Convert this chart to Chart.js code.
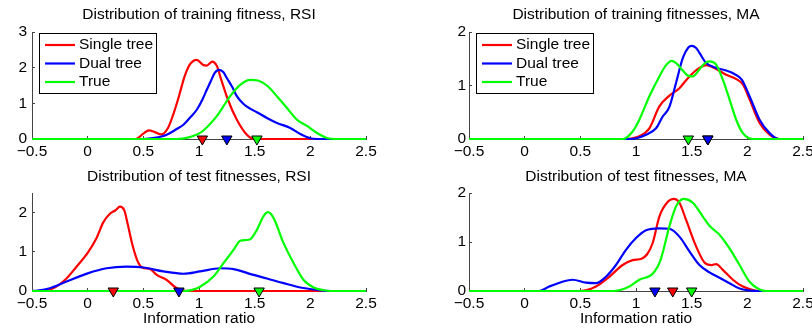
<!DOCTYPE html>
<html>
<head>
<meta charset="utf-8">
<script src="https://cdn.jsdelivr.net/npm/chart.js@4/dist/chart.umd.min.js"></script>
<style>
  body { margin: 0; background: #fff; }
  .sub { position: absolute; width: 406px; height: 166px; }
</style>
</head>
<body>
<div class="sub" style="left:0;top:0"><canvas id="trainRsi" width="406" height="166"></canvas></div>
<div class="sub" style="left:406px;top:0"><canvas id="trainMa" width="406" height="166"></canvas></div>
<div class="sub" style="left:0;top:166px"><canvas id="testRsi" width="406" height="166"></canvas></div>
<div class="sub" style="left:406px;top:166px"><canvas id="testMa" width="406" height="166"></canvas></div>
<script>
var labels = ['Single tree', 'Dual tree', 'True'];
var colors = ['#ff0000', '#0000ff', '#00ff00'];
var xTicks = [-0.5, 0, 0.5, 1, 1.5, 2, 2.5];

// training fitness, RSI
var trainRsiSingleX = [-0.5, 0.43, 0.5, 0.55, 0.6, 0.66, 0.72, 0.77, 0.82, 0.87, 0.92, 0.98, 1.04, 1.07, 1.12, 1.16, 1.2, 1.26, 1.34, 1.43, 1.5, 2.5];
var trainRsiSingleY = [0, 0, 0.15, 0.24, 0.2, 0.13, 0.3, 0.7, 1.2, 1.75, 2.1, 2.22, 2.07, 2.06, 2.17, 2.05, 1.66, 1.1, 0.54, 0.12, 0, 0];
var trainRsiDualX = [-0.5, 0.5, 0.6, 0.71, 0.8, 0.86, 0.92, 0.98, 1.03, 1.07, 1.11, 1.14, 1.18, 1.22, 1.25, 1.3, 1.34, 1.4, 1.46, 1.52, 1.61, 1.7, 1.82, 1.91, 2.0, 2.06, 2.5];
var trainRsiDualY = [0, 0, 0.03, 0.12, 0.28, 0.4, 0.6, 0.82, 1.1, 1.38, 1.65, 1.85, 1.94, 1.87, 1.71, 1.45, 1.2, 0.98, 0.85, 0.75, 0.59, 0.45, 0.31, 0.14, 0.02, 0, 0];
var trainRsiTrueX = [-0.5, 0.8, 0.9, 1.01, 1.08, 1.16, 1.22, 1.28, 1.37, 1.46, 1.53, 1.61, 1.7, 1.79, 1.88, 1.97, 2.06, 2.15, 2.22, 2.5];
var trainRsiTrueY = [0, 0, 0.04, 0.17, 0.36, 0.64, 0.92, 1.2, 1.52, 1.66, 1.64, 1.5, 1.2, 0.87, 0.54, 0.37, 0.17, 0.03, 0, 0];
var trainRsiMeans = [1.03, 1.25, 1.52];

// training fitnesses, MA
var trainMaSingleX = [-0.5, 0.88, 0.95, 1.03, 1.12, 1.21, 1.3, 1.39, 1.48, 1.57, 1.63, 1.72, 1.81, 1.9, 1.96, 2.02, 2.11, 2.2, 2.29, 2.5];
var trainMaSingleY = [0, 0, 0.01, 0.05, 0.2, 0.61, 0.81, 0.95, 1.17, 1.33, 1.38, 1.31, 1.2, 1.12, 1.02, 0.74, 0.3, 0.08, 0, 0];
var trainMaDualX = [-0.5, 0.95, 1.09, 1.18, 1.24, 1.3, 1.36, 1.42, 1.47, 1.5, 1.54, 1.57, 1.63, 1.72, 1.81, 1.88, 1.95, 2.02, 2.11, 2.2, 2.28, 2.5];
var trainMaDualY = [0, 0, 0.08, 0.2, 0.42, 0.6, 1.05, 1.51, 1.71, 1.74, 1.7, 1.61, 1.42, 1.33, 1.28, 1.22, 1.11, 0.8, 0.36, 0.11, 0, 0];
var trainMaTrueX = [-0.5, 0.88, 0.97, 1.03, 1.12, 1.21, 1.27, 1.32, 1.36, 1.42, 1.47, 1.51, 1.57, 1.62, 1.66, 1.72, 1.78, 1.84, 1.9, 1.96, 2.05, 2.5];
var trainMaTrueY = [0, 0, 0.14, 0.36, 0.8, 1.17, 1.38, 1.46, 1.42, 1.28, 1.18, 1.17, 1.3, 1.42, 1.45, 1.39, 1.11, 0.74, 0.36, 0.11, 0, 0];
var trainMaMeans = [1.645, 1.645, 1.47];

// test fitnesses, RSI
var testRsiSingleX = [-0.5, -0.43, -0.31, -0.19, -0.1, 0.0, 0.08, 0.14, 0.2, 0.25, 0.29, 0.33, 0.36, 0.4, 0.45, 0.49, 0.56, 0.62, 0.71, 0.79, 0.85, 0.9, 2.5];
var testRsiSingleY = [0, 0, 0.07, 0.32, 0.62, 0.97, 1.35, 1.75, 1.97, 2.06, 2.15, 2.05, 1.7, 1.2, 0.75, 0.6, 0.56, 0.41, 0.28, 0.09, 0.02, 0, 0];
var testRsiDualX = [-0.5, -0.45, -0.34, -0.19, 0.0, 0.17, 0.35, 0.5, 0.68, 0.86, 1.01, 1.19, 1.31, 1.49, 1.61, 1.76, 1.91, 2.06, 2.18, 2.5];
var testRsiDualY = [0, 0.01, 0.07, 0.24, 0.45, 0.58, 0.62, 0.6, 0.5, 0.44, 0.5, 0.58, 0.56, 0.41, 0.32, 0.2, 0.09, 0.03, 0, 0];
var testRsiTrueX = [-0.5, 0.87, 0.94, 1.01, 1.13, 1.22, 1.31, 1.37, 1.42, 1.46, 1.52, 1.58, 1.62, 1.67, 1.76, 1.85, 1.94, 2.03, 2.12, 2.18, 2.5];
var testRsiTrueY = [0, 0, 0.03, 0.11, 0.37, 0.71, 1.05, 1.28, 1.3, 1.32, 1.56, 1.91, 2.01, 1.86, 1.22, 0.71, 0.28, 0.09, 0.02, 0, 0];
var testRsiMeans = [0.23, 0.82, 1.54];

// test fitnesses, MA
var testMaSingleX = [-0.5, 0.5, 0.64, 0.76, 0.88, 0.97, 1.05, 1.1, 1.15, 1.21, 1.29, 1.34, 1.39, 1.45, 1.54, 1.62, 1.68, 1.72, 1.78, 1.87, 1.96, 2.05, 2.12, 2.5];
var testMaSingleY = [0, 0, 0.09, 0.29, 0.53, 0.63, 0.66, 0.75, 0.98, 1.52, 1.83, 1.88, 1.8, 1.45, 0.91, 0.57, 0.53, 0.55, 0.43, 0.23, 0.09, 0.02, 0, 0];
var testMaDualX = [-0.5, 0.13, 0.22, 0.34, 0.43, 0.55, 0.64, 0.73, 0.82, 0.91, 1.0, 1.09, 1.21, 1.3, 1.39, 1.48, 1.57, 1.66, 1.75, 1.84, 1.93, 2.02, 2.08, 2.5];
var testMaDualY = [0, 0, 0.09, 0.19, 0.23, 0.17, 0.16, 0.29, 0.53, 0.84, 1.08, 1.24, 1.28, 1.27, 1.11, 0.81, 0.53, 0.38, 0.27, 0.16, 0.05, 0.01, 0, 0];
var testMaTrueX = [-0.5, 0.8, 0.94, 1.03, 1.15, 1.22, 1.3, 1.36, 1.43, 1.51, 1.6, 1.66, 1.75, 1.84, 1.93, 2.02, 2.11, 2.17, 2.5];
var testMaTrueY = [0, 0, 0.09, 0.23, 0.35, 0.63, 1.32, 1.73, 1.88, 1.8, 1.52, 1.33, 1.15, 0.87, 0.53, 0.19, 0.03, 0, 0];
var testMaMeans = [1.33, 1.17, 1.5];

var font = { family: '"Liberation Sans", Arial, Helvetica, sans-serif', size: 15.5 };
Chart.defaults.font.family = font.family;
Chart.defaults.color = '#000';

// title above the axes and the boxed legend inside them
var subplotText = {
  id: 'subplotText',
  afterDraw: function (chart, args, o) {
    var ctx = chart.ctx, a = chart.chartArea;
    ctx.save();
    ctx.font = font.size + 'px ' + font.family;
    ctx.fillStyle = '#000';
    ctx.textAlign = 'center';
    ctx.textBaseline = 'middle';
    ctx.fillText(o.title, (a.left + a.right) / 2, a.top - o.titleGap);
    if (o.legend) {
      var bx = a.left + 7, by = a.top + 1, bw = 117, bh = 60;
      ctx.fillStyle = '#fff';
      ctx.fillRect(bx, by, bw, bh);
      ctx.strokeStyle = '#000';
      ctx.lineWidth = 1;
      ctx.strokeRect(bx + 0.5, by + 0.5, bw, bh);
      labels.forEach(function (l, i) {
        var y = by + 12 + i * 18.5;
        ctx.strokeStyle = colors[i];
        ctx.lineWidth = 2.2;
        ctx.beginPath();
        ctx.moveTo(bx + 6, y);
        ctx.lineTo(bx + 36, y);
        ctx.stroke();
        ctx.fillStyle = '#000';
        ctx.textAlign = 'left';
        ctx.fillText(l, bx + 40, y);
      });
    }
    ctx.restore();
  }
};

function points(xs, ys) {
  return xs.map(function (x, i) { return { x: x, y: ys[i] }; });
}

function subplot(id, xs, ys, means, yMax, yTicks, o) {
  var datasets = [];
  for (var i = 0; i < 3; i++) {
    datasets.push({
      label: labels[i],
      data: points(xs[i], ys[i]),
      borderColor: colors[i],
      borderWidth: 2.2,
      pointRadius: 0,
      cubicInterpolationMode: 'monotone',
      clip: false,
      order: 6 - i
    });
  }
  for (var j = 0; j < 3; j++) {
    datasets.push({
      label: labels[j] + ' mean',
      data: [{ x: means[j], y: 0 }],
      showLine: false,
      pointStyle: 'triangle',
      rotation: 180,
      pointRadius: 6,
      backgroundColor: colors[j],
      borderColor: '#000',
      borderWidth: 1,
      clip: false,
      order: 3 - j
    });
  }
  new Chart(document.getElementById(id), {
    type: 'line',
    data: { datasets: datasets },
    plugins: [subplotText],
    options: {
      responsive: false,
      animation: false,
      events: [],
      layout: { padding: { left: 0, right: o.padRight, top: o.padTop, bottom: 0 } },
      plugins: {
        legend: { display: false },
        tooltip: { enabled: false },
        subplotText: { title: o.title, titleGap: o.titleGap, legend: o.legend }
      },
      scales: {
        x: {
          type: 'linear',
          min: -0.5,
          max: 2.5,
          afterBuildTicks: function (s) { s.ticks = xTicks.map(function (v) { return { value: v }; }); },
          afterFit: function (s) { s.height = o.xHeight; s.paddingLeft = 0; s.paddingRight = 0; },
          ticks: {
            font: font, color: '#000', padding: 6, maxRotation: 0, autoSkip: false,
            callback: function (v) { return String(v).replace('-', '\u2212'); }
          },
          grid: { drawOnChartArea: false, tickLength: -3, color: '#444' },
          border: { color: '#444', width: 1 },
          title: { display: !!o.xlabel, text: o.xlabel, font: font, color: '#000', padding: { top: 0, bottom: 4 } }
        },
        y: {
          min: 0,
          max: yMax,
          afterBuildTicks: function (s) { s.ticks = yTicks.map(function (v) { return { value: v }; }); },
          afterFit: function (s) { s.width = o.yWidth; s.paddingTop = 0; s.paddingBottom = 0; },
          ticks: { font: font, color: '#000', padding: o.yPad },
          grid: { drawOnChartArea: false, tickLength: -3, color: '#444' },
          border: { color: '#444', width: 1 }
        }
      }
    }
  });
}

subplot('trainRsi',
  [trainRsiSingleX, trainRsiDualX, trainRsiTrueX],
  [trainRsiSingleY, trainRsiDualY, trainRsiTrueY],
  trainRsiMeans, 3, [0, 1, 2, 3],
  { title: 'Distribution of training fitness, RSI', titleGap: 17, legend: true,
    padTop: 32, padRight: 40, yWidth: 32, yPad: 8, xHeight: 27 });

subplot('trainMa',
  [trainMaSingleX, trainMaDualX, trainMaTrueX],
  [trainMaSingleY, trainMaDualY, trainMaTrueY],
  trainMaMeans, 2, [0, 1, 2],
  { title: 'Distribution of training fitnesses, MA', titleGap: 17, legend: true,
    padTop: 32, padRight: 9, yWidth: 63, yPad: 6, xHeight: 27 });

subplot('testRsi',
  [testRsiSingleX, testRsiDualX, testRsiTrueX],
  [testRsiSingleY, testRsiDualY, testRsiTrueY],
  testRsiMeans, 2.5, [0, 1, 2],
  { title: 'Distribution of test fitnesses, RSI', titleGap: 16, legend: false, xlabel: 'Information ratio',
    padTop: 27, padRight: 40, yWidth: 32, yPad: 8, xHeight: 41 });

subplot('testMa',
  [testMaSingleX, testMaDualX, testMaTrueX],
  [testMaSingleY, testMaDualY, testMaTrueY],
  testMaMeans, 2, [0, 1, 2],
  { title: 'Distribution of test fitnesses, MA', titleGap: 16, legend: false, xlabel: 'Information ratio',
    padTop: 27, padRight: 9, yWidth: 63, yPad: 6, xHeight: 41 });
</script>
</body>
</html>
